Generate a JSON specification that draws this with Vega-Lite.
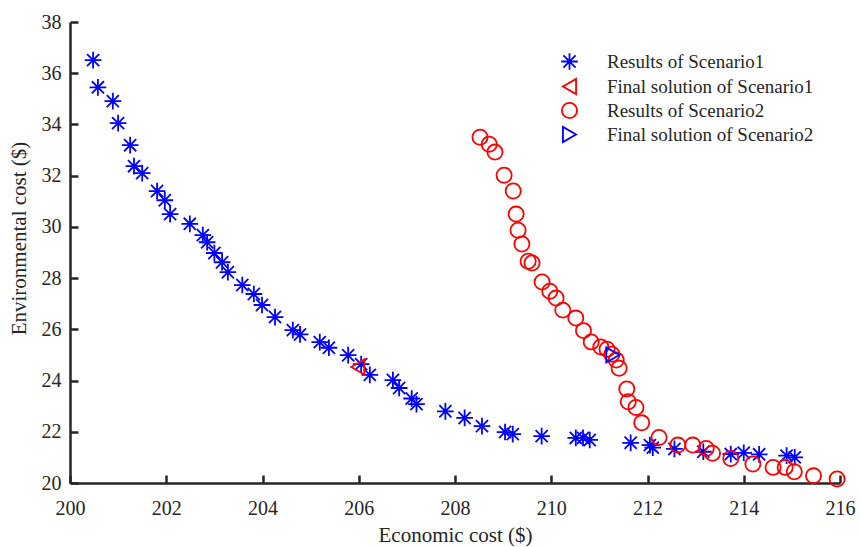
{
  "$schema": "https://vega.github.io/schema/vega-lite/v6.json",
  "width": 770,
  "height": 461,
  "autosize": {"type": "none"},
  "padding": {"left": 70, "top": 22, "right": 20, "bottom": 64},
  "background": "white",
  "config": {
    "view": {"stroke": null},
    "font": "Liberation Serif",
    "axis": {
      "grid": false,
      "domainColor": "#262626",
      "domainWidth": 2.5,
      "tickColor": "#262626",
      "tickWidth": 2.5,
      "tickSize": -8,
      "labelFlush": false,
      "labelFont": "Liberation Serif",
      "labelFontSize": 20,
      "labelColor": "#262626",
      "titleFont": "Liberation Serif",
      "titleFontSize": 21,
      "titleFontWeight": "normal",
      "titleColor": "#262626"
    }
  },
  "data": {
    "values": [
      {"s": "Results of Scenario1", "x": 200.48, "y": 36.51},
      {"s": "Results of Scenario1", "x": 200.58, "y": 35.45},
      {"s": "Results of Scenario1", "x": 200.89, "y": 34.91},
      {"s": "Results of Scenario1", "x": 201.0, "y": 34.05},
      {"s": "Results of Scenario1", "x": 201.25, "y": 33.19},
      {"s": "Results of Scenario1", "x": 201.33, "y": 32.37},
      {"s": "Results of Scenario1", "x": 201.5, "y": 32.1},
      {"s": "Results of Scenario1", "x": 201.81, "y": 31.4},
      {"s": "Results of Scenario1", "x": 201.97, "y": 31.04},
      {"s": "Results of Scenario1", "x": 202.08, "y": 30.5},
      {"s": "Results of Scenario1", "x": 202.49, "y": 30.12},
      {"s": "Results of Scenario1", "x": 202.76, "y": 29.68},
      {"s": "Results of Scenario1", "x": 202.85, "y": 29.4},
      {"s": "Results of Scenario1", "x": 203.0, "y": 28.98},
      {"s": "Results of Scenario1", "x": 203.16, "y": 28.62},
      {"s": "Results of Scenario1", "x": 203.28, "y": 28.23},
      {"s": "Results of Scenario1", "x": 203.58, "y": 27.73},
      {"s": "Results of Scenario1", "x": 203.82, "y": 27.38},
      {"s": "Results of Scenario1", "x": 203.99, "y": 26.95},
      {"s": "Results of Scenario1", "x": 204.26, "y": 26.48},
      {"s": "Results of Scenario1", "x": 204.63, "y": 25.97},
      {"s": "Results of Scenario1", "x": 204.78, "y": 25.8},
      {"s": "Results of Scenario1", "x": 205.19, "y": 25.5},
      {"s": "Results of Scenario1", "x": 205.38, "y": 25.28},
      {"s": "Results of Scenario1", "x": 205.78, "y": 24.99},
      {"s": "Results of Scenario1", "x": 206.05, "y": 24.64},
      {"s": "Results of Scenario1", "x": 206.23, "y": 24.22},
      {"s": "Results of Scenario1", "x": 206.71, "y": 24.02},
      {"s": "Results of Scenario1", "x": 206.84, "y": 23.71},
      {"s": "Results of Scenario1", "x": 207.1, "y": 23.3},
      {"s": "Results of Scenario1", "x": 207.2, "y": 23.08},
      {"s": "Results of Scenario1", "x": 207.8, "y": 22.8},
      {"s": "Results of Scenario1", "x": 208.2, "y": 22.54},
      {"s": "Results of Scenario1", "x": 208.56, "y": 22.22},
      {"s": "Results of Scenario1", "x": 209.04, "y": 21.99},
      {"s": "Results of Scenario1", "x": 209.2, "y": 21.91},
      {"s": "Results of Scenario1", "x": 209.8, "y": 21.83},
      {"s": "Results of Scenario1", "x": 210.51, "y": 21.76},
      {"s": "Results of Scenario1", "x": 210.66, "y": 21.76},
      {"s": "Results of Scenario1", "x": 210.8, "y": 21.68},
      {"s": "Results of Scenario1", "x": 211.65, "y": 21.57},
      {"s": "Results of Scenario1", "x": 212.05, "y": 21.48},
      {"s": "Results of Scenario1", "x": 212.11, "y": 21.38},
      {"s": "Results of Scenario1", "x": 212.56, "y": 21.33},
      {"s": "Results of Scenario1", "x": 213.16, "y": 21.22},
      {"s": "Results of Scenario1", "x": 213.73, "y": 21.13},
      {"s": "Results of Scenario1", "x": 214.0, "y": 21.18},
      {"s": "Results of Scenario1", "x": 214.32, "y": 21.12},
      {"s": "Results of Scenario1", "x": 214.89, "y": 21.07},
      {"s": "Results of Scenario1", "x": 215.06, "y": 21.0},
      {"s": "Final solution of Scenario1", "x": 205.98, "y": 24.53},
      {"s": "Results of Scenario2", "x": 208.52, "y": 33.5},
      {"s": "Results of Scenario2", "x": 208.71, "y": 33.23},
      {"s": "Results of Scenario2", "x": 208.83, "y": 32.92},
      {"s": "Results of Scenario2", "x": 209.02, "y": 32.02},
      {"s": "Results of Scenario2", "x": 209.21, "y": 31.4},
      {"s": "Results of Scenario2", "x": 209.27, "y": 30.5},
      {"s": "Results of Scenario2", "x": 209.31, "y": 29.87},
      {"s": "Results of Scenario2", "x": 209.39, "y": 29.33},
      {"s": "Results of Scenario2", "x": 209.52, "y": 28.66},
      {"s": "Results of Scenario2", "x": 209.6, "y": 28.59},
      {"s": "Results of Scenario2", "x": 209.81, "y": 27.85},
      {"s": "Results of Scenario2", "x": 209.97, "y": 27.49},
      {"s": "Results of Scenario2", "x": 210.1, "y": 27.22},
      {"s": "Results of Scenario2", "x": 210.24, "y": 26.75},
      {"s": "Results of Scenario2", "x": 210.51, "y": 26.44},
      {"s": "Results of Scenario2", "x": 210.67, "y": 25.95},
      {"s": "Results of Scenario2", "x": 210.83, "y": 25.51},
      {"s": "Results of Scenario2", "x": 211.03, "y": 25.31},
      {"s": "Results of Scenario2", "x": 211.16, "y": 25.22},
      {"s": "Results of Scenario2", "x": 211.26, "y": 25.03},
      {"s": "Results of Scenario2", "x": 211.35, "y": 24.8},
      {"s": "Results of Scenario2", "x": 211.41, "y": 24.48},
      {"s": "Results of Scenario2", "x": 211.57, "y": 23.67},
      {"s": "Results of Scenario2", "x": 211.6, "y": 23.17},
      {"s": "Results of Scenario2", "x": 211.76, "y": 22.95},
      {"s": "Results of Scenario2", "x": 211.88, "y": 22.35},
      {"s": "Results of Scenario2", "x": 212.24, "y": 21.78},
      {"s": "Results of Scenario2", "x": 212.63, "y": 21.48},
      {"s": "Results of Scenario2", "x": 212.94, "y": 21.48},
      {"s": "Results of Scenario2", "x": 213.22, "y": 21.35},
      {"s": "Results of Scenario2", "x": 213.35, "y": 21.16},
      {"s": "Results of Scenario2", "x": 213.73, "y": 20.96},
      {"s": "Results of Scenario2", "x": 214.19, "y": 20.74},
      {"s": "Results of Scenario2", "x": 214.61, "y": 20.61},
      {"s": "Results of Scenario2", "x": 214.86, "y": 20.61},
      {"s": "Results of Scenario2", "x": 215.05, "y": 20.44},
      {"s": "Results of Scenario2", "x": 215.45, "y": 20.28},
      {"s": "Results of Scenario2", "x": 215.94, "y": 20.16},
      {"s": "Final solution of Scenario2", "x": 211.28, "y": 25.0}
    ]
  },
  "mark": {"type": "point", "filled": false, "strokeWidth": 1.8, "size": 230, "opacity": 1},
  "encoding": {
    "x": {
      "field": "x", "type": "quantitative",
      "scale": {"domain": [200, 216], "nice": false, "zero": false},
      "axis": {"values": [200, 202, 204, 206, 208, 210, 212, 214, 216], "title": "Economic cost ($)", "labelPadding": 23, "titlePadding": 6}
    },
    "y": {
      "field": "y", "type": "quantitative",
      "scale": {"domain": [20, 38], "nice": false, "zero": false},
      "axis": {"values": [20, 22, 24, 26, 28, 30, 32, 34, 36, 38], "title": "Environmental cost ($)", "labelPadding": 17, "titlePadding": 12, "titleY": 216}
    },
    "color": {
      "field": "s", "type": "nominal",
      "scale": {
        "domain": ["Results of Scenario1", "Final solution of Scenario1", "Results of Scenario2", "Final solution of Scenario2"],
        "range": ["#0000ff", "#ff0000", "#ff0000", "#0000ff"]
      },
      "legend": {
        "title": null,
        "orient": "none",
        "legendX": 490,
        "legendY": 30,
        "padding": 0,
        "labelFont": "Liberation Serif",
        "labelFontSize": 19,
        "labelColor": "#262626",
        "labelOffset": 28,
        "labelBaseline": "middle",
        "symbolSize": 230,
        "symbolStrokeWidth": 1.8,
        "rowPadding": 1,
        "labelLimit": 400
      }
    },
    "shape": {
      "field": "s", "type": "nominal",
      "scale": {
        "domain": ["Results of Scenario1", "Final solution of Scenario1", "Results of Scenario2", "Final solution of Scenario2"],
        "range": ["M-1.1,0L1.1,0M0,-1.1L0,1.1M-0.8,-0.8L0.8,0.8M-0.8,0.8L0.8,-0.8", "triangle-left", "circle", "triangle-right"]
      }
    }
  }
}
